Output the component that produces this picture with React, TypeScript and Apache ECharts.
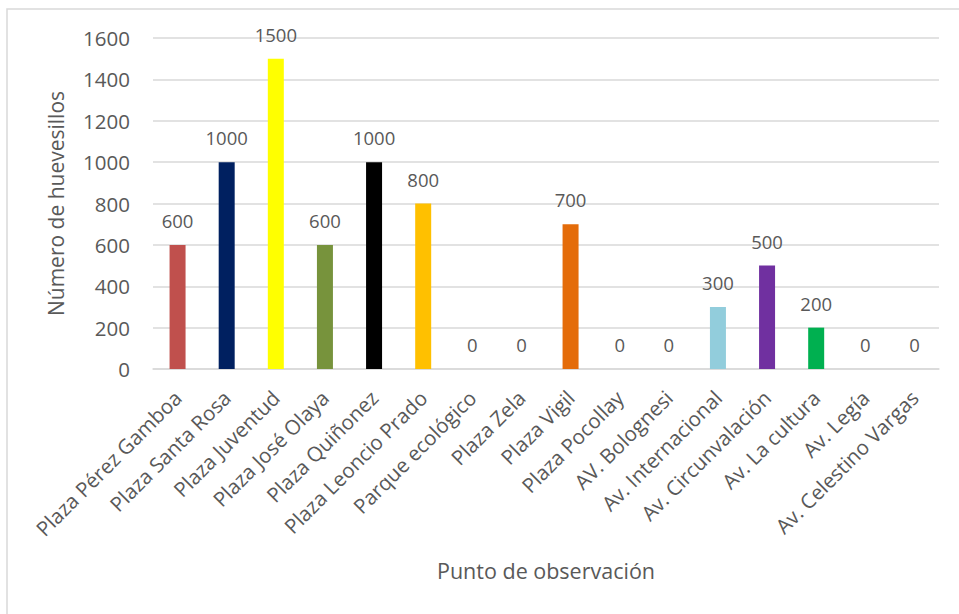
import React, { useEffect, useRef } from "react";
import * as echarts from "echarts";

const categories = [
  "Plaza Pérez Gamboa",
  "Plaza Santa Rosa",
  "Plaza Juventud",
  "Plaza José Olaya",
  "Plaza Quiñonez",
  "Plaza Leoncio Prado",
  "Parque ecológico",
  "Plaza Zela",
  "Plaza Vigil",
  "Plaza Pocollay",
  "AV. Bolognesi",
  "Av. Internacional",
  "Av. Circunvalación",
  "Av. La cultura",
  "Av. Legía",
  "Av. Celestino Vargas",
];
const values = [600, 1000, 1500, 600, 1000, 800, 0, 0, 700, 0, 0, 300, 500, 200, 0, 0];
const barColors = [
  "#C0504D", "#002060", "#FFFF00", "#77933C", "#000000", "#FFC000", "#4472C4", "#4472C4",
  "#E46C0A", "#4472C4", "#4472C4", "#92CDDC", "#7030A0", "#00B050", "#4472C4", "#4472C4",
];
const yTicks = { min: 0, max: 1600, interval: 200 };

const FONT = "Open Sans";
const TEXT = "#595959";

export default function App() {
  const ref = useRef<HTMLDivElement>(null);
  useEffect(() => {
    const chart = echarts.init(ref.current!, null, { renderer: "svg" });
    chart.setOption({
      animation: false,
      textStyle: { fontFamily: FONT },
      graphic: [
        {
          type: "rect",
          shape: { x: 7, y: 9, width: 1000, height: 700 },
          style: { fill: "none", stroke: "#D9D9D9", lineWidth: 1.5 },
          silent: true,
        },
      ],
      grid: { left: 153, right: 20, top: 38, bottom: 245, containLabel: false },
      xAxis: {
        type: "category",
        data: categories,
        name: "Punto de observación",
        nameLocation: "middle",
        nameGap: 190,
        nameTextStyle: { fontFamily: FONT, fontSize: 21.5, color: TEXT },
        axisLine: { lineStyle: { color: "#D9D9D9", width: 1.5 } },
        axisTick: { show: false },
        axisLabel: {
          interval: 0,
          rotate: 45,
          margin: 25,
          fontFamily: FONT,
          fontSize: 20.5,
          color: TEXT,
        },
      },
      yAxis: {
        type: "value",
        min: yTicks.min,
        max: yTicks.max,
        interval: yTicks.interval,
        name: "Número de huevesillos",
        nameLocation: "middle",
        nameGap: 87,
        nameTextStyle: { fontFamily: FONT, fontSize: 21, color: TEXT },
        axisLine: { show: false },
        axisTick: { show: false },
        axisLabel: {
          margin: 23,
          fontFamily: FONT,
          fontSize: 20.5,
          color: TEXT,
          formatter: (v: number) => String(v),
        },
        splitLine: { lineStyle: { color: "#D9D9D9", width: 1.5 } },
      },
      series: [
        {
          type: "bar",
          barWidth: 16,
          data: values.map((v, i) => ({ value: v, itemStyle: { color: barColors[i] } })),
          label: {
            show: true,
            position: "top",
            distance: 15,
            fontFamily: FONT,
            fontSize: 18.5,
            color: TEXT,
          },
        },
      ],
    });
    return () => chart.dispose();
  }, []);
  return (
    <div
      ref={ref}
      style={{ position: "fixed", left: 0, top: 0, width: 959, height: 614, background: "#fff" }}
    />
  );
}
